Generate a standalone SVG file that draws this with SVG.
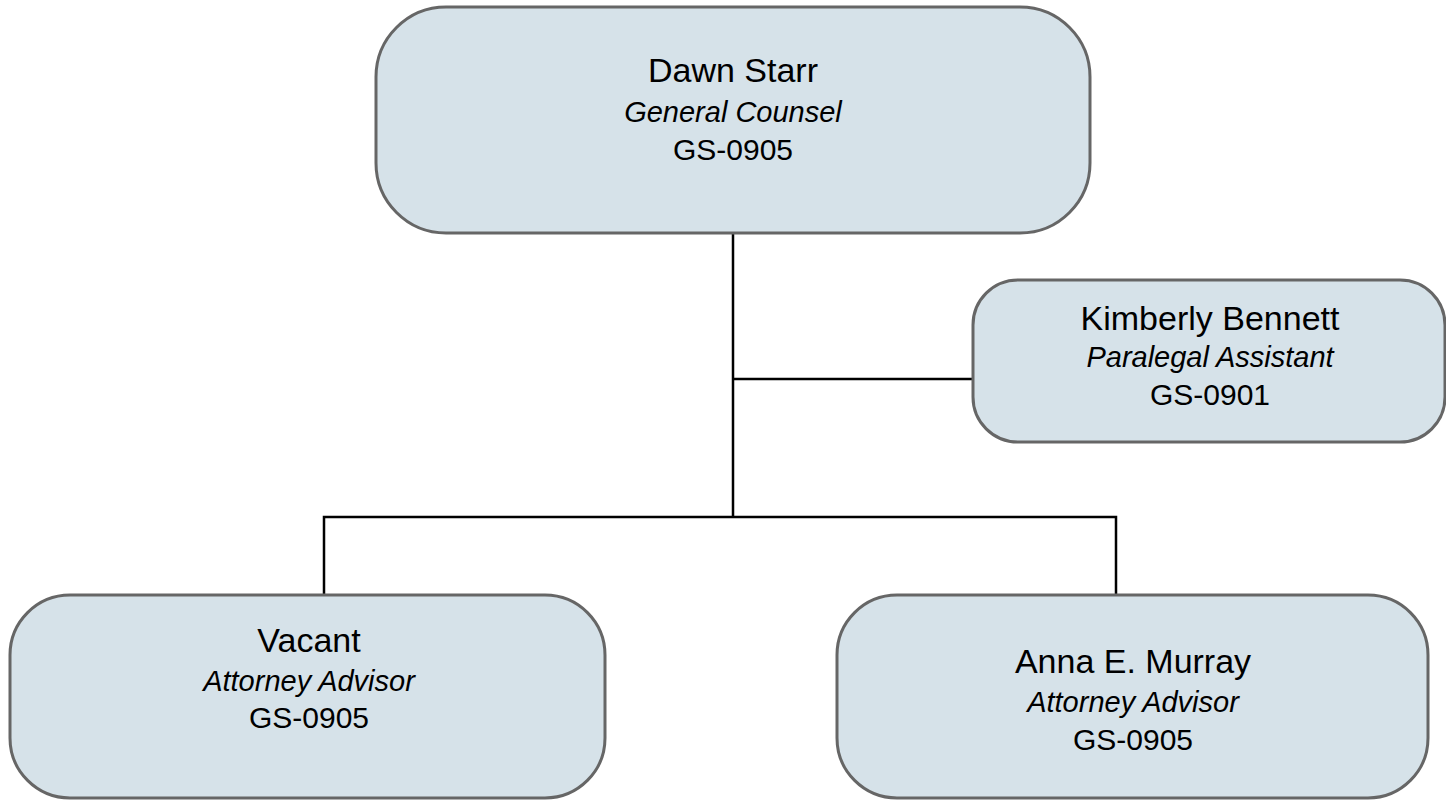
<svg xmlns="http://www.w3.org/2000/svg" width="1446" height="800" viewBox="0 0 1446 800">
<style>
.box{fill:#d6e2e9;stroke:#666666;stroke-width:3}
.name{font-family:"Liberation Sans",Arial,sans-serif;font-size:34px;fill:#000;text-anchor:middle}
.role{font-family:"Liberation Sans",Arial,sans-serif;font-size:29px;font-style:italic;fill:#000;text-anchor:middle}
.code{font-family:"Liberation Sans",Arial,sans-serif;font-size:30px;fill:#000;text-anchor:middle}
.conn{stroke:#000;stroke-width:2.5;fill:none}
</style>
<rect width="1446" height="800" fill="#ffffff"/>
<g id="connectors">
<path class="conn" d="M733 233 V517"/>
<path class="conn" d="M733 379 H973"/>
<path class="conn" d="M324 594 V517 H1116 V594"/>
</g>
<g id="node-dawn">
<rect class="box" x="376" y="7" width="714" height="226" rx="70" ry="70"/>
<text class="name" x="733" y="82">Dawn Starr</text>
<text class="role" x="733" y="122">General Counsel</text>
<text class="code" x="733" y="160">GS-0905</text>
</g>
<g id="node-kimberly">
<rect class="box" x="973" y="280" width="472" height="162" rx="45" ry="45"/>
<text class="name" x="1210" y="330">Kimberly Bennett</text>
<text class="role" x="1210" y="367">Paralegal Assistant</text>
<text class="code" x="1210" y="405">GS-0901</text>
</g>
<g id="node-vacant">
<rect class="box" x="10" y="595" width="595" height="203" rx="60" ry="60"/>
<text class="name" x="309" y="652">Vacant</text>
<text class="role" x="309" y="691">Attorney Advisor</text>
<text class="code" x="309" y="728">GS-0905</text>
</g>
<g id="node-anna">
<rect class="box" x="837" y="595" width="591" height="203" rx="60" ry="60"/>
<text class="name" x="1133" y="673">Anna E. Murray</text>
<text class="role" x="1133" y="712">Attorney Advisor</text>
<text class="code" x="1133" y="750">GS-0905</text>
</g>
</svg>
